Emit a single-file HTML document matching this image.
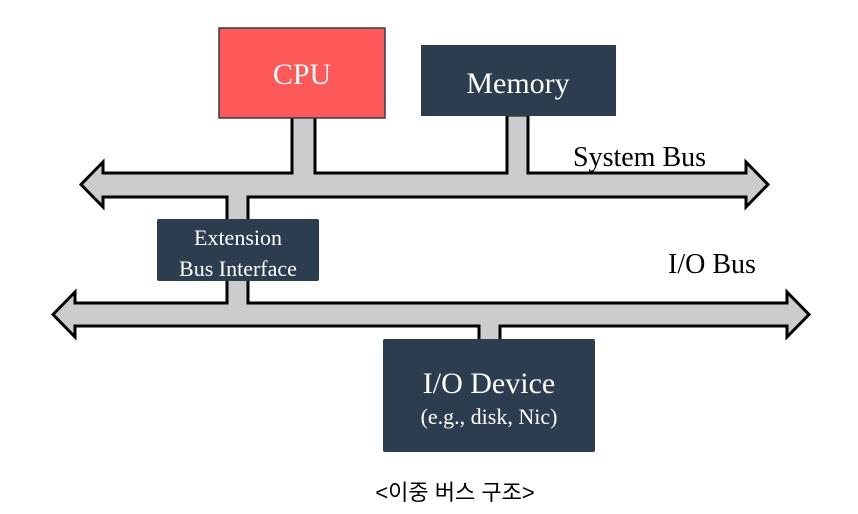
<!DOCTYPE html>
<html><head><meta charset="utf-8"><style>
html,body{margin:0;padding:0;background:#fff;}
svg{display:block;}
</style></head><body>
<svg width="858" height="514" viewBox="0 0 858 514" xmlns="http://www.w3.org/2000/svg">
<g stroke="#000" stroke-width="3" fill="#cccccc" stroke-linejoin="miter">
  <!-- stems -->
  <rect x="292" y="110" width="23" height="70"/>
  <rect x="507" y="115" width="21" height="65"/>
  <rect x="227" y="188" width="21" height="40"/>
  <rect x="227" y="275" width="21" height="36"/>
  <rect x="479" y="318" width="21" height="28"/>
  <!-- system bus -->
  <polygon points="81,184.5 103,162 103,173 746,173 746,162 768,184.5 746,207 746,197 103,197 103,207"/>
  <!-- io bus -->
  <polygon points="53,314.5 75,292 75,303 787,303 787,292 809,314.5 787,337 787,326 75,326 75,337"/>
</g>
<g fill="#cccccc">
  <rect x="293.5" y="170" width="20" height="6"/>
  <rect x="508.5" y="170" width="18" height="6"/>
  <rect x="228.5" y="194" width="18" height="6"/>
  <rect x="228.5" y="300" width="18" height="6"/>
  <rect x="480.5" y="323" width="18" height="6"/>
</g>
<rect x="219" y="28" width="166" height="90" fill="#fe5858" stroke="#2e3e4e" stroke-width="1.5"/>
<rect x="421" y="45" width="195" height="71" fill="#2c3d4f"/>
<rect x="157" y="219" width="162" height="62" rx="2" fill="#2c3d4f"/>
<rect x="383" y="339" width="212" height="113" rx="2" fill="#2c3d4f"/>
<g font-family="Liberation Serif, serif" fill="#fff" text-anchor="middle">
  <text x="302" y="84" font-size="30">CPU</text>
  <text x="518" y="93" font-size="30">Memory</text>
  <text x="238" y="245" font-size="22">Extension</text>
  <text x="238" y="276" font-size="22">Bus Interface</text>
  <text x="489" y="393" font-size="30">I/O Device</text>
  <text x="489" y="424" font-size="22">(e.g., disk, Nic)</text>
</g>
<g font-family="Liberation Serif, serif" fill="#000">
  <text x="573" y="166" font-size="28">System Bus</text>
  <text x="668" y="273" font-size="28">I/O Bus</text>
</g>
<text x="455" y="500" font-size="22" text-anchor="middle" font-family="Liberation Sans, 'Noto Sans CJK KR', sans-serif" fill="#000">&lt;이중 버스 구조&gt;</text>
</svg>
</body></html>
